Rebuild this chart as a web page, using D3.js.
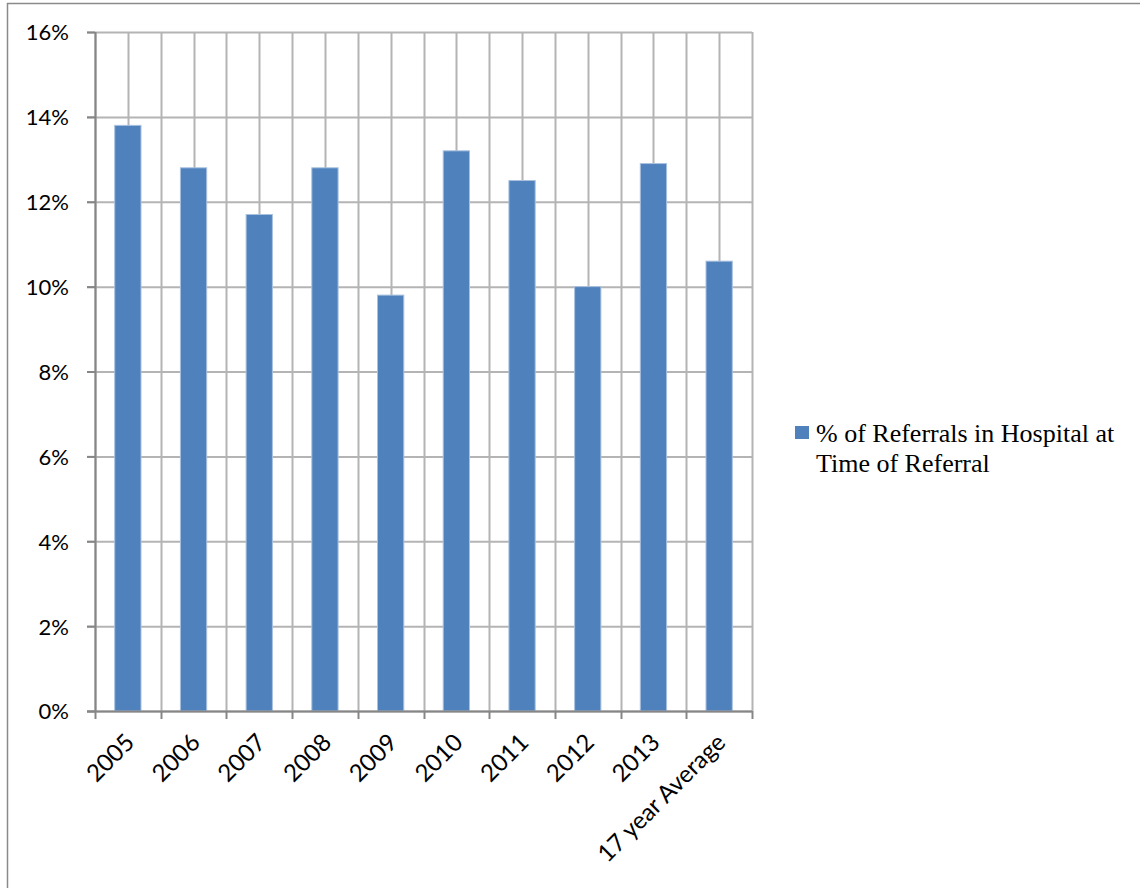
<!DOCTYPE html>
<html>
<head>
<meta charset="utf-8">
<script src="https://cdn.jsdelivr.net/npm/d3@7"></script>
<style>
  html, body { margin: 0; padding: 0; background: #ffffff; }
  svg { display: block; }
</style>
</head>
<body>
<div id="chart"></div>
<script>
// Share of referrals that were in hospital at the time of referral
const categories = ["2005", "2006", "2007", "2008", "2009", "2010", "2011", "2012", "2013", "17 year Average"];
const values = [13.8, 12.8, 11.7, 12.8, 9.8, 13.2, 12.5, 10.0, 12.9, 10.6];
const yTicks = [0, 2, 4, 6, 8, 10, 12, 14, 16];
const seriesName = ["% of Referrals in Hospital at", "Time of Referral"];

const W = 1140, H = 888;
const plot = { left: 95, right: 752, top: 32, bottom: 711 };
const barColor = "#4f81bd";
const gridColor = "#b4b4b4";
const axisColor = "#868686";

const svg = d3.select("#chart").append("svg")
  .attr("width", W).attr("height", H);

// chart area frame (extends past the window on the right and bottom)
svg.append("rect")
  .attr("x", 7.5).attr("y", 3.5)
  .attr("width", W + 20).attr("height", H + 20)
  .attr("fill", "#ffffff")
  .attr("stroke", "#8a8a8a").attr("stroke-width", 1.5);

const x = d3.scaleBand().domain(categories)
  .range([plot.left, plot.right]).padding(0);
const y = d3.scaleLinear().domain([0, 16]).range([plot.bottom, plot.top]);

// vertical gridlines at category edges and centres
const vLines = [];
categories.forEach(c => {
  vLines.push(x(c));
  vLines.push(x(c) + x.bandwidth() / 2);
});
vLines.push(plot.right);
svg.append("g").selectAll("line").data(vLines).join("line")
  .attr("x1", d => Math.round(d) + 0.5).attr("x2", d => Math.round(d) + 0.5)
  .attr("y1", plot.top).attr("y2", plot.bottom)
  .attr("stroke", gridColor).attr("stroke-width", 2);

// horizontal gridlines with y-axis ticks
const yAxis = d3.axisLeft(y).tickValues(yTicks)
  .tickSize(plot.right - plot.left + 8).tickSizeOuter(0)
  .tickFormat(d => d + "%").tickPadding(18);
const gy = svg.append("g")
  .attr("transform", `translate(${plot.right},0)`)
  .call(yAxis);
gy.select(".domain").remove();
gy.selectAll(".tick line").attr("stroke", gridColor).attr("stroke-width", 2);
gy.selectAll(".tick text")
  .attr("font-family", "Lato, 'Open Sans', sans-serif")
  .attr("font-size", 22).attr("fill", "#000")
  .attr("dy", "0.36em");
// small left stubs in the axis colour
gy.selectAll(".tick").append("line")
  .attr("x1", -(plot.right - plot.left + 8)).attr("x2", -(plot.right - plot.left))
  .attr("stroke", axisColor).attr("stroke-width", 2);

// bars
const barW = x.bandwidth() * 0.4;
svg.append("g").selectAll("rect").data(values).join("rect")
  .attr("x", (d, i) => x(categories[i]) + (x.bandwidth() - barW) / 2)
  .attr("y", d => y(d))
  .attr("width", barW)
  .attr("height", d => y(0) - y(d))
  .attr("fill", barColor)
  .attr("stroke", "#a9c1df").attr("stroke-width", 1);

// axis lines
svg.append("line")
  .attr("x1", plot.left + 0.5).attr("x2", plot.left + 0.5)
  .attr("y1", plot.top).attr("y2", plot.bottom)
  .attr("stroke", axisColor).attr("stroke-width", 2);

const xAxis = d3.axisBottom(x).tickSize(0).tickSizeOuter(0).tickFormat(d => d);
const gx = svg.append("g")
  .attr("transform", `translate(0,${plot.bottom})`)
  .call(xAxis);
gx.select(".domain")
  .attr("stroke", axisColor).attr("stroke-width", 2)
  .attr("d", `M${plot.left - 8},0.5H${plot.right}`);
gx.selectAll(".tick text")
  .attr("font-family", "Lato, 'Open Sans', sans-serif")
  .attr("font-size", 24).attr("fill", "#000")
  .attr("text-anchor", "end")
  .attr("transform", "translate(2,27) rotate(-45)")
  .attr("y", 0).attr("dy", "0.35em").attr("x", 0);

// category boundary tick marks below the axis
const edges = categories.map(c => x(c)).concat([plot.right]);
svg.append("g").selectAll("line").data(edges).join("line")
  .attr("x1", d => Math.round(d) + 0.5).attr("x2", d => Math.round(d) + 0.5)
  .attr("y1", plot.bottom).attr("y2", plot.bottom + 8)
  .attr("stroke", axisColor).attr("stroke-width", 2);

// legend
const lg = svg.append("g").attr("transform", "translate(795,426)");
lg.append("rect").attr("width", 14).attr("height", 13).attr("fill", barColor);
lg.append("text")
  .attr("font-family", "'Liberation Serif', 'Times New Roman', serif")
  .attr("font-size", 26).attr("fill", "#000")
  .selectAll("tspan").data(seriesName).join("tspan")
  .attr("x", 21).attr("y", (d, i) => 16 + i * 30)
  .text(d => d);
</script>
</body>
</html>
